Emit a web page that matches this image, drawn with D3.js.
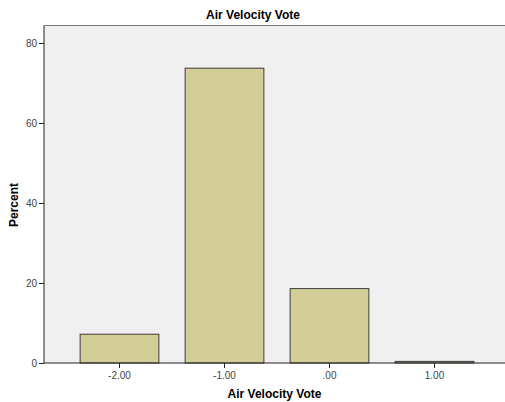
<!DOCTYPE html>
<html>
<head>
<meta charset="utf-8">
<script src="https://cdn.jsdelivr.net/npm/d3@7"></script>
<style>
  body { margin: 0; background: #fff; }
  text { font-family: "Liberation Sans", Arial, sans-serif; }
</style>
</head>
<body>
<svg id="mainsvg" width="505" height="402"></svg>
<script>
const categories = ['-2.00', '-1.00', '.00', '1.00'];
const percents = [7.2, 73.7, 18.6, 0.4];
const yTicks = [0, 20, 40, 60, 80];

const svg = d3.select('#mainsvg');
const width = +svg.attr('width');
const height = +svg.attr('height');
const margin = {top: 25.5, right: 0, bottom: 39, left: 44};
const plotW = width - margin.left - margin.right;
const plotH = height - margin.top - margin.bottom;

const x = d3.scaleBand()
  .domain(categories)
  .range([23, 443])
  .paddingInner(0.25)
  .paddingOuter(0.125);
const y = d3.scaleLinear().domain([0, 80]).range([plotH, 17.5]);

const g = svg.append('g').attr('transform', `translate(${margin.left}, ${margin.top})`);

// plot background + top frame line
g.append('rect')
  .attr('width', plotW).attr('height', plotH)
  .attr('fill', '#f0f0f0');
g.append('line')
  .attr('x1', 0).attr('x2', plotW).attr('y1', 0).attr('y2', 0)
  .attr('stroke', '#7a7a7a').attr('stroke-width', 1);

g.selectAll('.bar')
  .data(percents)
  .join('rect')
  .attr('class', 'bar')
  .attr('x', (d, i) => x(categories[i]))
  .attr('y', d => y(d))
  .attr('width', x.bandwidth())
  .attr('height', d => plotH - y(d))
  .attr('fill', '#d3ce98')
  .attr('stroke', '#3c3c3c')
  .attr('stroke-width', 1);

// y axis
const yAxis = g.append('g')
  .call(d3.axisLeft(y).tickValues(yTicks).tickSize(5).tickPadding(2));
yAxis.select('.domain').attr('stroke', '#222').attr('d', `M0,0V${plotH}`);
yAxis.selectAll('.tick line').attr('stroke', '#222');
yAxis.selectAll('text').attr('fill', '#444').attr('font-size', 10);

// x axis
const xAxis = g.append('g')
  .attr('transform', `translate(0, ${plotH})`)
  .call(d3.axisBottom(x).tickSize(5).tickPadding(4));
xAxis.select('.domain').attr('stroke', '#222').attr('d', `M0,0H${plotW}`);
xAxis.selectAll('.tick line').attr('stroke', '#222');
xAxis.selectAll('text').attr('fill', '#444').attr('font-size', 10);

// titles
svg.append('text')
  .attr('x', 253).attr('y', 19)
  .attr('text-anchor', 'middle')
  .attr('font-size', 12).attr('font-weight', 'bold')
  .text('Air Velocity Vote');

svg.append('text')
  .attr('x', margin.left + plotW / 2).attr('y', 398)
  .attr('text-anchor', 'middle')
  .attr('font-size', 12).attr('font-weight', 'bold')
  .text('Air Velocity Vote');

svg.append('text')
  .attr('transform', `translate(18, ${205}) rotate(-90)`)
  .attr('text-anchor', 'middle')
  .attr('font-size', 12).attr('font-weight', 'bold')
  .text('Percent');
</script>
</body>
</html>
